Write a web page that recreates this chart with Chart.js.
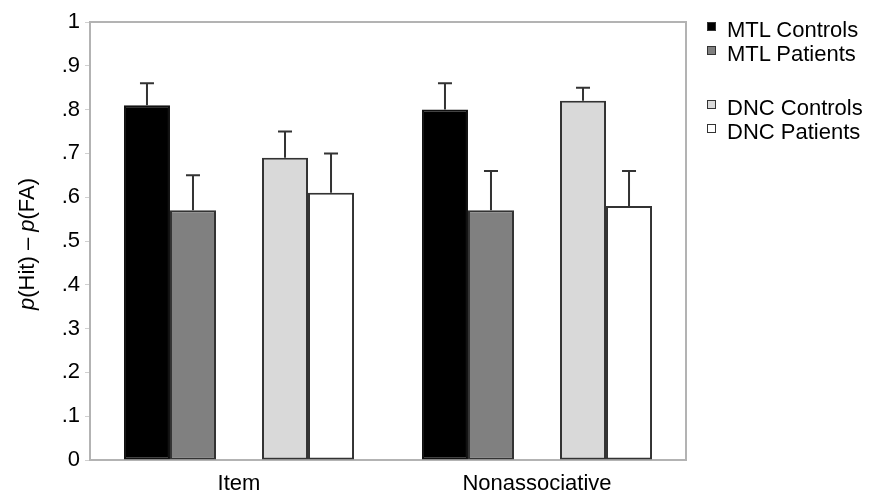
<!DOCTYPE html>
<html>
<head>
<meta charset="utf-8">
<script src="https://cdn.jsdelivr.net/npm/chart.js@4.4.1/dist/chart.umd.min.js"></script>
<style>
  html, body { margin: 0; padding: 0; background: #fff; }
  #wrap { position: relative; width: 876px; height: 493px; }
  #legend { position: absolute; left: 707px; top: 18px; font-family: "Liberation Sans", Arial, sans-serif; font-size: 22px; color: #000; }
  .item { position: relative; height: 24px; line-height: 24px; padding-left: 20px; white-space: nowrap; }
  .item .box { position: absolute; left: 0; top: 4px; width: 9px; height: 9px; border: 1px solid #333; box-sizing: border-box; }
  .gap { height: 30px; }
</style>
</head>
<body>
<div id="wrap">
  <canvas id="chart" width="876" height="493"></canvas>
  <div id="legend"></div>
</div>
<script>
// Datos
const categories = ['Item', 'Nonassociative'];
const seriesNames = ['MTL Controls', 'MTL Patients', 'DNC Controls', 'DNC Patients'];
const mtlControls = [0.81, 0.80];
const mtlPatients = [0.57, 0.57];
const dncControls = [0.69, 0.82];
const dncPatients = [0.61, 0.58];
// error (solo hacia arriba)
const mtlControlsErr = [0.05, 0.06];
const mtlPatientsErr = [0.08, 0.09];
const dncControlsErr = [0.06, 0.03];
const dncPatientsErr = [0.09, 0.08];
const yTickLabels = ['0', '.1', '.2', '.3', '.4', '.5', '.6', '.7', '.8', '.9', '1'];

const FONT = '"Liberation Sans", Arial, sans-serif';
const fills = ['#000000', '#808080', '#d9d9d9', '#ffffff'];
const borders = ['#111111', '#333333', '#333333', '#333333'];

function bar(i, data, errors) {
    return {
        label: seriesNames[i],
        data: data,
        errors: errors,
        backgroundColor: fills[i],
        borderColor: borders[i],
        borderWidth: 2,
        borderSkipped: false
    };
}

// hueco entre MTL y DNC
const spacer = { label: '', data: [null, null], backgroundColor: 'rgba(0,0,0,0)' };

// Caja del área del gráfico
const plotBox = {
    id: 'plotBox',
    beforeDatasetsDraw(chart) {
        const a = chart.chartArea;
        const ctx = chart.ctx;
        ctx.save();
        ctx.strokeStyle = '#b3b3b3';
        ctx.lineWidth = 2;
        ctx.strokeRect(a.left, a.top, a.right - a.left, a.bottom - a.top);
        ctx.restore();
    }
};

// Barras de error
const errorBars = {
    id: 'errorBars',
    afterDatasetsDraw(chart) {
        const ctx = chart.ctx;
        const y = chart.scales.y;
        ctx.save();
        ctx.strokeStyle = '#333';
        ctx.lineWidth = 2;
        chart.data.datasets.forEach((ds, i) => {
            if (!ds.errors) return;
            chart.getDatasetMeta(i).data.forEach((b, j) => {
                const top = y.getPixelForValue(ds.data[j] + ds.errors[j]);
                ctx.beginPath();
                ctx.moveTo(b.x, b.y);
                ctx.lineTo(b.x, top);
                ctx.moveTo(b.x - 7, top);
                ctx.lineTo(b.x + 7, top);
                ctx.stroke();
            });
        });
        ctx.restore();
    }
};

// Título del eje Y con "p" en cursiva
const yTitleParts = [['p', true], ['(Hit) \u2013 ', false], ['p', true], ['(FA)', false]];
const yTitle = {
    id: 'yTitle',
    afterDraw(chart) {
        const ctx = chart.ctx;
        ctx.save();
        ctx.translate(28, 244);
        ctx.rotate(-Math.PI / 2);
        ctx.fillStyle = '#000';
        ctx.textBaseline = 'middle';
        let total = 0;
        yTitleParts.forEach(([t, it]) => {
            ctx.font = (it ? 'italic ' : '') + '22px ' + FONT;
            total += ctx.measureText(t).width;
        });
        let x = -total / 2;
        yTitleParts.forEach(([t, it]) => {
            ctx.font = (it ? 'italic ' : '') + '22px ' + FONT;
            ctx.fillText(t, x, 0);
            x += ctx.measureText(t).width;
        });
        ctx.restore();
    }
};

const ctx = document.getElementById('chart').getContext('2d');
const chart = new Chart(ctx, {
    type: 'bar',
    data: {
        labels: categories,
        datasets: [
            bar(0, mtlControls, mtlControlsErr),
            bar(1, mtlPatients, mtlPatientsErr),
            spacer,
            bar(2, dncControls, dncControlsErr),
            bar(3, dncPatients, dncPatientsErr)
        ]
    },
    options: {
        responsive: false,
        animation: false,
        layout: { padding: { top: 22, right: 190, left: 0, bottom: 0 } },
        datasets: { bar: { categoryPercentage: 0.772, barPercentage: 1 } },
        scales: {
            y: {
                min: 0,
                max: 1,
                afterFit(s) { s.width = 90; },
                border: { display: false },
                grid: { drawOnChartArea: false, drawTicks: true, tickLength: 5, color: '#d0d0d0' },
                ticks: {
                    stepSize: 0.1,
                    padding: 5,
                    color: '#000',
                    font: { family: FONT, size: 22 },
                    callback: (v, i) => yTickLabels[i]
                }
            },
            x: {
                afterFit(s) { s.height = 33; },
                border: { display: false },
                grid: { display: false },
                ticks: { padding: 3, color: '#000', font: { family: FONT, size: 22 } }
            }
        },
        plugins: {
            legend: { display: false },
            tooltip: { enabled: false }
        }
    },
    plugins: [plotBox, errorBars, yTitle]
});

// Leyenda
const legend = document.getElementById('legend');
seriesNames.forEach((name, i) => {
    if (i === 2) {
        const g = document.createElement('div');
        g.className = 'gap';
        legend.appendChild(g);
    }
    const row = document.createElement('div');
    row.className = 'item';
    const box = document.createElement('span');
    box.className = 'box';
    box.style.background = fills[i];
    row.appendChild(box);
    row.appendChild(document.createTextNode(name));
    legend.appendChild(row);
});
</script>
</body>
</html>
